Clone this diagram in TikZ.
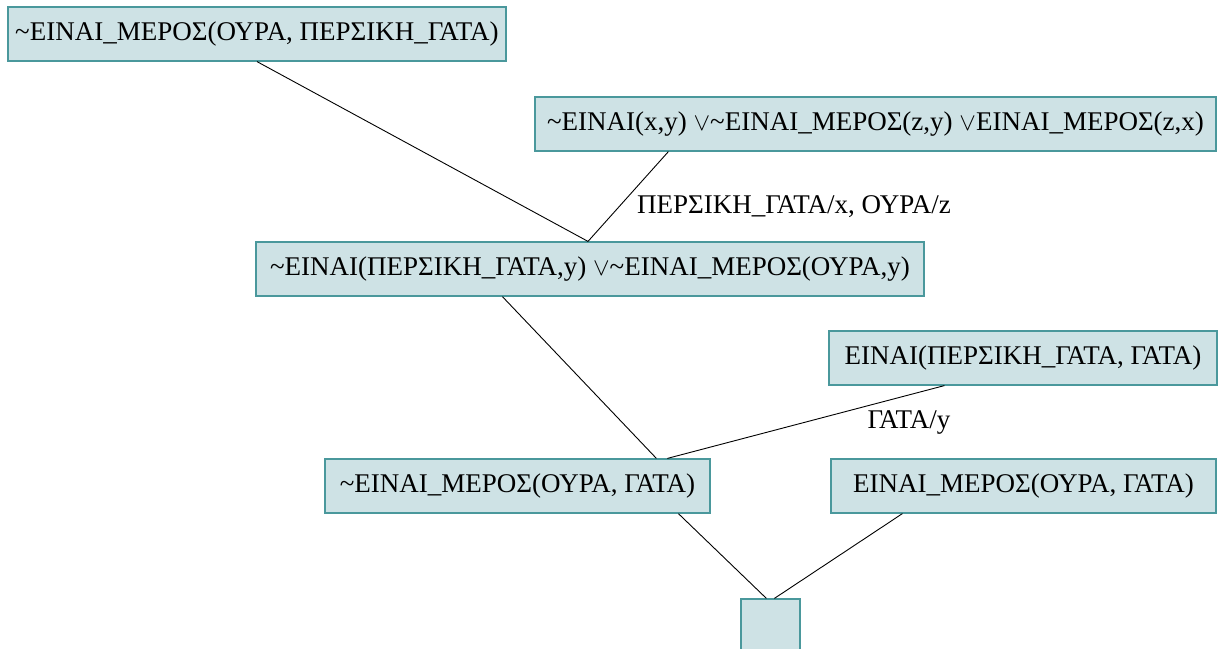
\documentclass[tikz,border=0pt]{standalone}
\usepackage{fontspec}
\setmainfont{Liberation Serif}
\usepackage{tikz}
\usetikzlibrary{positioning}

\definecolor{clausefill}{RGB}{206,226,229}
\definecolor{clauseline}{RGB}{74,152,156}

\begin{document}
\begin{tikzpicture}[
  x=1pt, y=-1pt,
  clause/.style={rectangle, draw=clauseline, fill=clausefill, line width=1.2pt, minimum height=54pt, inner xsep=6pt, font=\fontsize{27}{31}\selectfont},
  subst/.style={font=\fontsize{27}{31}\selectfont, inner sep=0pt},
  link/.style={line width=0.9pt}
]
  \useasboundingbox (0,0) rectangle (1221,648);

  \node[clause, minimum width=498pt] (goal) at (257,34) {\textasciitilde ΕΙΝΑΙ\_ΜΕΡΟΣ(ΟΥΡΑ, ΠΕΡΣΙΚΗ\_ΓΑΤΑ)};
  \node[clause, minimum width=681pt] (rule) at (875.5,124) {\textasciitilde ΕΙΝΑΙ(x,y) $\vee$\textasciitilde ΕΙΝΑΙ\_ΜΕΡΟΣ(z,y) $\vee$ΕΙΝΑΙ\_ΜΕΡΟΣ(z,x)};
  \node[clause, minimum width=668pt] (res1) at (590,269) {\textasciitilde ΕΙΝΑΙ(ΠΕΡΣΙΚΗ\_ΓΑΤΑ,y) $\vee$\textasciitilde ΕΙΝΑΙ\_ΜΕΡΟΣ(ΟΥΡΑ,y)};
  \node[clause, minimum width=388pt] (fact) at (1023,358) {ΕΙΝΑΙ(ΠΕΡΣΙΚΗ\_ΓΑΤΑ, ΓΑΤΑ)};
  \node[clause, minimum width=385pt] (res2) at (517.5,486) {\textasciitilde ΕΙΝΑΙ\_ΜΕΡΟΣ(ΟΥΡΑ, ΓΑΤΑ)};
  \node[clause, minimum width=385pt] (part) at (1023.5,486) {ΕΙΝΑΙ\_ΜΕΡΟΣ(ΟΥΡΑ, ΓΑΤΑ)};
  \node[clause, minimum width=59pt, minimum height=60pt, inner sep=0pt] (empty) at (770.5,629) {};

  % substitutions
  \node[subst, anchor=west] (s1) at (637,207) {ΠΕΡΣΙΚΗ\_ΓΑΤΑ/x, ΟΥΡΑ/z};
  \node[subst] (s2) at (909,422) {ΓΑΤΑ/y};

  \draw[link] (goal.south) -- ([xshift=-2pt]res1.north);
  \draw[link] ([xshift=134pt]rule.south west) -- ([xshift=-2pt]res1.north);
  \draw[link] ([xshift=247pt]res1.south west) -- ([xshift=332pt]res2.north west);
  \draw[link] ([xshift=116pt]fact.south west) -- ([xshift=343pt]res2.north west);
  \draw[link] ([xshift=354pt]res2.south west) -- ([xshift=26pt]empty.north west);
  \draw[link] ([xshift=72pt]part.south west) -- ([xshift=34pt]empty.north west);

\end{tikzpicture}
\end{document}
